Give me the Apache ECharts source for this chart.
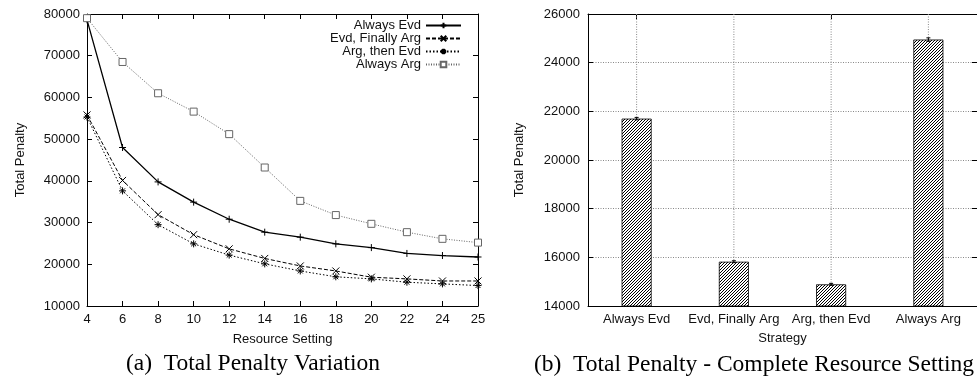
<!DOCTYPE html>
<html>
<head>
<meta charset="utf-8">
<script src="https://cdn.jsdelivr.net/npm/echarts@6/dist/echarts.min.js"></script>
<style>
  html, body { margin: 0; padding: 0; background: #fff; overflow: hidden; }
  #chart { width: 977px; height: 381px; }
</style>
</head>
<body>
<div id="chart"></div>
<script>
// left panel: penalty vs resource setting
const settings = ['4', '6', '8', '10', '12', '14', '16', '18', '20', '22', '24', '25']
const alwaysEvd = [78600, 48000, 39750, 34900, 30800, 27700, 26500, 24900, 24000, 22600, 22100, 21750]
const evdFinallyArg = [55800, 40100, 31900, 27100, 23700, 21400, 19600, 18400, 16900, 16500, 16000, 16000]
const argThenEvd = [55300, 37600, 29500, 24900, 22200, 20100, 18400, 17000, 16500, 15700, 15300, 14900]
const alwaysArg = [79000, 68500, 61000, 56600, 51200, 43200, 35200, 31800, 29700, 27700, 26100, 25200]
const leftTicks = { min: 10000, max: 80000, interval: 10000 }

// right panel: complete resource setting
const strategies = ['Always Evd', 'Evd, Finally Arg', 'Arg, then Evd', 'Always Arg']
const penalties = [21700, 15820, 14890, 24950]
const penaltyErr = [50, 40, 40, 70]
const rightTicks = { min: 14000, max: 26000, interval: 2000 }

const sans = '"Liberation Sans", Arial, sans-serif'
const serif = '"Liberation Serif", "Times New Roman", serif'

// hatch fill like gnuplot's fillstyle pattern
function hatch() {
  const c = document.createElement('canvas')
  c.width = 3
  c.height = 3
  const ctx = c.getContext('2d')
  const img = ctx.createImageData(3, 3)
  for (let y = 0; y < 3; y++) {
    for (let x = 0; x < 3; x++) {
      const i = (y * 3 + x) * 4
      const v = (x + y) % 3 === 2 ? 0 : 255
      img.data[i] = v
      img.data[i + 1] = v
      img.data[i + 2] = v
      img.data[i + 3] = 255
    }
  }
  ctx.putImageData(img, 0, 0)
  return c
}

const tickIn = { show: true, inside: true, length: 5, lineStyle: { color: '#000' } }
const axisBlack = { show: true, lineStyle: { color: '#000', width: 1 } }
const labelFont = { color: '#111', fontSize: 13, fontFamily: sans }
const gridDots = { show: true, lineStyle: { color: '#888', type: [1, 1.5], width: 1 } }
const plain = (v) => String(v)

const symPlus = 'path://M0,5L10,5M5,0L5,10'
const symCross = 'path://M0,0L10,10M10,0L0,10'
const symStar = 'path://M0,5L10,5M5,0L5,10M1.5,1.5L8.5,8.5M8.5,1.5L1.5,8.5'

function lineSeries(name, data, symbol, dash, color, width) {
  return {
    name: name,
    type: 'line',
    xAxisIndex: 0,
    yAxisIndex: 0,
    data: data,
    symbol: symbol,
    symbolSize: 7,
    showAllSymbol: true,
    lineStyle: { color: color, width: width, type: dash },
    itemStyle: {
      color: symbol === 'rect' ? '#fff' : color,
      borderColor: color,
      borderWidth: 1
    },
    emphasis: { disabled: true },
    z: 3
  }
}

const chart = echarts.init(document.getElementById('chart'), null, { renderer: 'canvas' })

const option = {
  animation: false,
  backgroundColor: '#fff',
  textStyle: { fontFamily: sans },
  grid: [
    { left: 87, top: 14, width: 391, height: 292 },
    { left: 588, top: 14, width: 392, height: 292 }
  ],
  legend: {
    data: ['Always Evd', 'Evd, Finally Arg', 'Arg, then Evd', 'Always Arg'],
    orient: 'vertical',
    right: 515,
    top: 19,
    align: 'right',
    itemWidth: 35,
    itemHeight: 7,
    itemGap: 0,
    padding: 0,
    selectedMode: false,
    textStyle: { color: '#111', fontSize: 13, fontFamily: sans, lineHeight: 13 }
  },
  xAxis: [
    {
      type: 'category', gridIndex: 0, data: settings, boundaryGap: false,
      axisLine: axisBlack, axisTick: tickIn,
      axisLabel: Object.assign({ margin: 7, interval: 0 }, labelFont),
      name: 'Resource Setting', nameLocation: 'middle', nameGap: 27,
      nameTextStyle: labelFont
    },
    {
      type: 'category', gridIndex: 0, data: settings, boundaryGap: false, position: 'top',
      axisLine: axisBlack, axisTick: tickIn, axisLabel: { show: false }
    },
    {
      type: 'category', gridIndex: 1, data: strategies,
      axisLine: axisBlack, axisTick: Object.assign({ alignWithLabel: true }, tickIn),
      axisLabel: Object.assign({ margin: 7, interval: 0 }, labelFont),
      name: 'Strategy', nameLocation: 'middle', nameGap: 26,
      nameTextStyle: labelFont
    },
    {
      type: 'category', gridIndex: 1, data: strategies, position: 'top',
      axisLine: axisBlack, axisTick: Object.assign({ alignWithLabel: true }, tickIn),
      axisLabel: { show: false }
    }
  ],
  yAxis: [
    {
      type: 'value', gridIndex: 0, min: leftTicks.min, max: leftTicks.max, interval: leftTicks.interval,
      axisLine: axisBlack, axisTick: tickIn, splitLine: { show: false },
      axisLabel: Object.assign({ margin: 7, formatter: plain }, labelFont),
      name: 'Total Penalty', nameLocation: 'middle', nameGap: 60, nameRotate: 90,
      nameTextStyle: labelFont
    },
    {
      type: 'value', gridIndex: 0, position: 'right', min: leftTicks.min, max: leftTicks.max, interval: leftTicks.interval,
      axisLine: axisBlack, axisTick: tickIn, splitLine: { show: false }, axisLabel: { show: false }
    },
    {
      type: 'value', gridIndex: 1, min: rightTicks.min, max: rightTicks.max, interval: rightTicks.interval,
      axisLine: axisBlack, axisTick: tickIn, splitLine: gridDots,
      axisLabel: Object.assign({ margin: 8, formatter: plain }, labelFont),
      name: 'Total Penalty', nameLocation: 'middle', nameGap: 62, nameRotate: 90,
      nameTextStyle: labelFont
    },
    {
      type: 'value', gridIndex: 1, position: 'right', min: rightTicks.min, max: rightTicks.max, interval: rightTicks.interval,
      axisLine: axisBlack, axisTick: tickIn, splitLine: { show: false }, axisLabel: { show: false }
    }
  ],
  series: [
    lineSeries('Always Evd', alwaysEvd, symPlus, 'solid', '#000', 1.3),
    lineSeries('Evd, Finally Arg', evdFinallyArg, symCross, [4, 2], '#000', 1),
    lineSeries('Arg, then Evd', argThenEvd, symStar, [1.5, 2], '#000', 1),
    lineSeries('Always Arg', alwaysArg, 'rect', [1, 1.5], '#666', 1),
    {
      // vertical dotted grid lines at the strategy positions
      type: 'custom',
      xAxisIndex: 2,
      yAxisIndex: 2,
      data: strategies.map((s, i) => [i]),
      silent: true,
      z: 1,
      renderItem: function (params, api) {
        const x = api.coord([api.value(0), rightTicks.min])[0]
        const cs = params.coordSys
        return {
          type: 'line',
          shape: { x1: x, y1: cs.y, x2: x, y2: cs.y + cs.height },
          style: { stroke: '#888', lineWidth: 1, lineDash: [1, 1.5] }
        }
      }
    },
    {
      type: 'bar',
      xAxisIndex: 2,
      yAxisIndex: 2,
      data: penalties,
      barWidth: 30,
      itemStyle: {
        color: { image: hatch(), repeat: 'repeat' },
        borderColor: '#000',
        borderWidth: 0.8
      },
      emphasis: { disabled: true },
      z: 3
    },
    {
      type: 'custom',
      xAxisIndex: 2,
      yAxisIndex: 2,
      data: penalties.map((v, i) => [i, v - penaltyErr[i], v + penaltyErr[i]]),
      silent: true,
      z: 4,
      renderItem: function (params, api) {
        const lo = api.coord([api.value(0), api.value(1)])
        const hi = api.coord([api.value(0), api.value(2)])
        const style = { stroke: '#000', lineWidth: 1 }
        return {
          type: 'group',
          children: [
            { type: 'line', shape: { x1: lo[0], y1: lo[1], x2: hi[0], y2: hi[1] }, style: style },
            { type: 'line', shape: { x1: lo[0] - 2, y1: lo[1], x2: lo[0] + 2, y2: lo[1] }, style: style },
            { type: 'line', shape: { x1: hi[0] - 2, y1: hi[1], x2: hi[0] + 2, y2: hi[1] }, style: style }
          ]
        }
      }
    }
  ],
  graphic: [
    {
      type: 'text', x: 253, y: 364,
      style: { text: '(a)  Total Penalty Variation', font: '23.5px ' + serif, fill: '#000', align: 'center', verticalAlign: 'middle' }
    },
    {
      type: 'text', x: 754, y: 365,
      style: { text: '(b)  Total Penalty - Complete Resource Setting', font: '23.5px ' + serif, fill: '#000', align: 'center', verticalAlign: 'middle' }
    }
  ]
}

chart.setOption(option)
</script>
</body>
</html>
